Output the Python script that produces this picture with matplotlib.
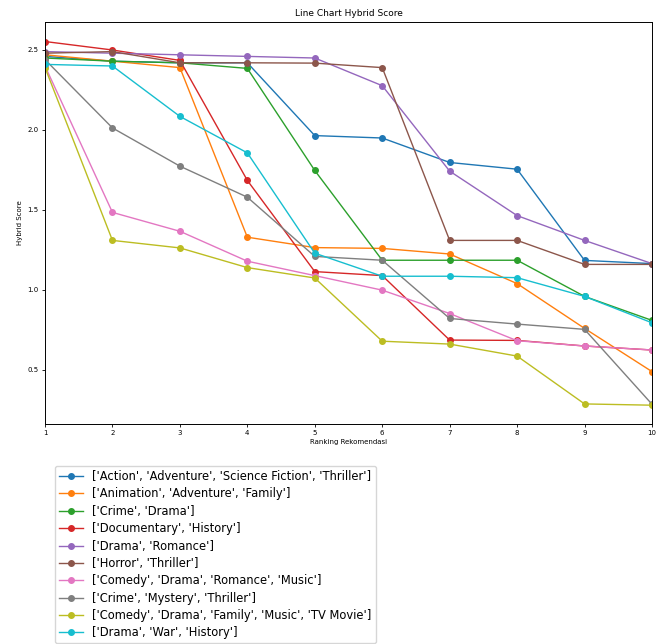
import matplotlib
matplotlib.use("Agg")
import matplotlib.pyplot as plt

ranks = [1, 2, 3, 4, 5, 6, 7, 8, 9, 10]
labels = [
    "['Action', 'Adventure', 'Science Fiction', 'Thriller']",
    "['Animation', 'Adventure', 'Family']",
    "['Crime', 'Drama']",
    "['Documentary', 'History']",
    "['Drama', 'Romance']",
    "['Horror', 'Thriller']",
    "['Comedy', 'Drama', 'Romance', 'Music']",
    "['Crime', 'Mystery', 'Thriller']",
    "['Comedy', 'Drama', 'Family', 'Music', 'TV Movie']",
    "['Drama', 'War', 'History']",
]
action = [2.46, 2.43, 2.42, 2.42, 1.965, 1.95, 1.797, 1.755, 1.185, 1.165]
animation = [2.47, 2.43, 2.39, 1.33, 1.265, 1.26, 1.225, 1.04, 0.76, 0.49]
crime_drama = [2.45, 2.43, 2.42, 2.385, 1.747, 1.186, 1.186, 1.186, 0.96, 0.81]
documentary = [2.553, 2.50, 2.435, 1.685, 1.115, 1.09, 0.687, 0.685, 0.65, 0.625]
drama_romance = [2.49, 2.48, 2.47, 2.46, 2.45, 2.277, 1.743, 1.465, 1.31, 1.165]
horror = [2.48, 2.49, 2.42, 2.42, 2.418, 2.39, 1.31, 1.31, 1.16, 1.16]
comedy_romance = [2.40, 1.485, 1.367, 1.18, 1.09, 0.999, 0.853, 0.683, 0.65, 0.625]
crime_mystery = [2.44, 2.013, 1.774, 1.58, 1.21, 1.186, 0.822, 0.787, 0.754, 0.286]
comedy_family = [2.39, 1.31, 1.263, 1.14, 1.075, 0.68, 0.662, 0.587, 0.288, 0.28]
drama_war = [2.41, 2.40, 2.085, 1.857, 1.23, 1.086, 1.086, 1.077, 0.96, 0.795]

series = [action, animation, crime_drama, documentary, drama_romance, horror,
          comedy_romance, crime_mystery, comedy_family, drama_war]

fig = plt.figure(figsize=(6.62, 6.44), dpi=100)
ax = fig.add_axes([45/662, 1-424/644, (652-45)/662, (424-22)/644])
for lab, vals in zip(labels, series):
    ax.plot(ranks, vals, marker='o', markersize=4, linewidth=1.0, label=lab)

ax.set_xlim(1, 10)
ax.set_ylim(0.1625, 2.675)
ax.set_xticks(ranks)
ax.set_yticks([0.5, 1.0, 1.5, 2.0, 2.5])
ax.tick_params(labelsize=5, length=2.5, width=0.6, pad=2)
for s in ax.spines.values():
    s.set_linewidth(0.7)
ax.set_title("Line Chart Hybrid Score", fontsize=6.5, pad=4)
ax.set_xlabel("Ranking Rekomendasi", fontsize=5, labelpad=2)
ax.set_ylabel("Hybrid Score", fontsize=5, labelpad=3)

handles, labs = ax.get_legend_handles_labels()
fig.legend(handles, labs, loc='upper left', bbox_to_anchor=(55/662, 1-466/644),
           fontsize=8.3, frameon=True, handlelength=2.1, labelspacing=0.38,
           borderpad=0.35, handletextpad=0.8, borderaxespad=0.0, markerscale=1.0)

fig.savefig("out.png", dpi=100)
